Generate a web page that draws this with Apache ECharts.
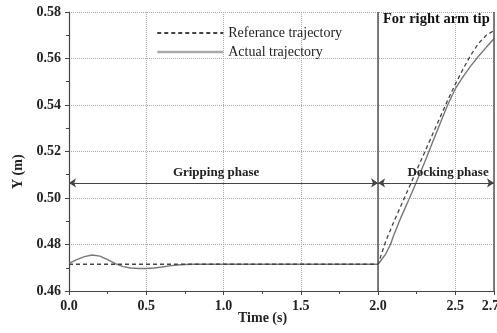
<!DOCTYPE html>
<html><head><meta charset="utf-8">
<script src="https://cdn.jsdelivr.net/npm/echarts@6/dist/echarts.min.js"></script>
<style>html,body{margin:0;padding:0;background:#fff}#c{width:497px;height:333px}</style>
</head><body><div id="c"></div>
<script>
const seriesNames = ['Referance trajectory', 'Actual trajectory'];
const refT = [0, 2.0, 2.05, 2.10, 2.15, 2.20, 2.25, 2.30, 2.35, 2.40, 2.45, 2.50, 2.55, 2.60, 2.65, 2.70, 2.75];
const refY = [0.4715, 0.4715, 0.4815, 0.4895, 0.4970, 0.5045, 0.5120, 0.5195, 0.5270, 0.5345, 0.5420, 0.5490, 0.5555, 0.5615, 0.5665, 0.5700, 0.5720];
const actT = [0, 0.05, 0.10, 0.15, 0.20, 0.25, 0.30, 0.35, 0.40, 0.45, 0.50, 0.55, 0.60, 0.65, 0.70, 0.75, 0.80, 1.0, 1.5, 2.0,
  2.03, 2.05, 2.08, 2.10, 2.15, 2.20, 2.25, 2.30, 2.35, 2.40, 2.45, 2.50, 2.55, 2.60, 2.65, 2.70, 2.75];
const actY = [0.4719, 0.4735, 0.4748, 0.4755, 0.4750, 0.4735, 0.4718, 0.4705, 0.4699, 0.4697, 0.4697, 0.4699, 0.4703, 0.4708, 0.4712, 0.4714, 0.4715, 0.4715, 0.4715, 0.4715,
  0.4742, 0.4760, 0.4800, 0.4838, 0.4920, 0.4995, 0.5072, 0.5152, 0.5235, 0.5318, 0.5400, 0.5470, 0.5522, 0.5568, 0.5610, 0.5648, 0.5685];
const phaseY = 0.5065;
const phaseStart = 0, phaseSwitch = 2.0, phaseEnd = 2.75;
const phaseLabels = ['Gripping phase', 'Docking phase'];
const xTitle = 'Time (s)', yTitle = 'Y (m)', panelTitle = 'For right arm tip';

const font = 'Liberation Serif';
const chart = echarts.init(document.getElementById('c'), null, {renderer: 'canvas'});
const zip = (a, b) => a.map((v, i) => [v, b[i]]);
chart.setOption({
  animation: false,
  grid: {left: 69, right: 3, top: 12, bottom: 42, containLabel: false, outerBoundsMode: 'none'},
  legend: {
    left: 151, top: 21, orient: 'vertical', itemWidth: 66, itemHeight: 14, itemGap: 5,
    itemStyle: {opacity: 0},
    textStyle: {fontFamily: font, fontSize: 14, color: '#222'},
    data: [seriesNames[0], {name: seriesNames[1], lineStyle: {width: 2.5, color: '#aaa'}}]
  },
  xAxis: {
    type: 'value', min: 0, max: 2.75, interval: 0.5,
    axisLine: {lineStyle: {color: '#444', width: 1.2}},
    axisTick: {inside: false, length: 4, lineStyle: {color: '#444'}},
    minorTick: {show: true, splitNumber: 2, length: 3, lineStyle: {color: '#444'}},
    axisLabel: {showMaxLabel: true, margin: 8, fontFamily: font, fontWeight: 'bold', fontSize: 14, color: '#222',
      formatter: v => Math.abs(v - 2.75) < 1e-6 ? '2.75' : v.toFixed(1)},
    splitLine: {show: true, lineStyle: {type: 'dotted', color: '#aaa', width: 1}}
  },
  yAxis: {
    type: 'value', min: 0.46, max: 0.58, interval: 0.02,
    axisLine: {show: true, lineStyle: {color: '#444', width: 1.2}},
    axisTick: {show: true, inside: false, length: 4, lineStyle: {color: '#444'}},
    minorTick: {show: true, splitNumber: 2, length: 3, lineStyle: {color: '#444'}},
    axisLabel: {margin: 8, fontFamily: font, fontWeight: 'bold', fontSize: 14, color: '#222', formatter: v => v.toFixed(2)},
    splitLine: {show: true, lineStyle: {type: 'dotted', color: '#aaa', width: 1}}
  },
  graphic: [
    {type: 'text', left: 238, top: 311, style: {text: xTitle, font: 'bold 14px "Liberation Serif"', fill: '#222'}},
    {type: 'text', x: 11, y: 189, rotation: Math.PI / 2, style: {text: yTitle, font: 'bold 14px "Liberation Serif"', fill: '#222'}},
    {type: 'text', left: 383, top: 12, style: {text: panelTitle, font: 'bold 14.5px "Liberation Serif"', fill: '#111'}}
  ],
  series: [
    {
      name: seriesNames[0], type: 'line', data: zip(refT, refY), symbol: 'none', z: 3,
      itemStyle: {color: '#444'},
      lineStyle: {color: '#444', width: 1.3, type: [4, 3]},
      markLine: {
        silent: true, symbol: ['none', 'none'], animation: false,
        lineStyle: {color: '#555', width: 1.5, type: 'solid'}, label: {show: false},
        data: [{xAxis: phaseSwitch}, {xAxis: phaseEnd}]
      }
    },
    {
      name: seriesNames[1], type: 'line', data: zip(actT, actY), symbol: 'none', z: 2,
      itemStyle: {color: '#777'},
      lineStyle: {color: '#777', width: 1.4},
      markLine: {
        silent: true, symbol: ['arrow', 'arrow'], symbolSize: 7, animation: false,
        lineStyle: {color: '#444', width: 1.2, type: 'solid'},
        label: {show: true, position: 'insideMiddleTop', fontFamily: font, fontWeight: 'bold', fontSize: 13, color: '#222', distance: 4},
        data: [
          [{coord: [phaseStart, phaseY], label: {formatter: phaseLabels[0], padding: [0, 15, 0, 0]}}, {coord: [phaseSwitch, phaseY]}],
          [{coord: [phaseSwitch, phaseY], label: {formatter: phaseLabels[1], padding: [0, 0, 0, 24]}}, {coord: [phaseEnd, phaseY]}]
        ]
      }
    }
  ]
});
</script></body></html>
